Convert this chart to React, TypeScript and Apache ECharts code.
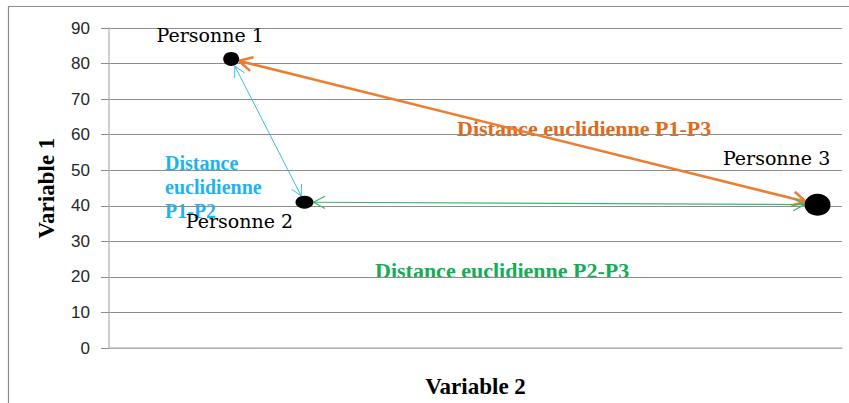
import React, { useEffect, useRef } from "react";
import * as echarts from "echarts";

// ---- data ----
const personNames = ["Personne 1", "Personne 2", "Personne 3"];
const variable2 = [1, 1.6, 5.8];
const variable1 = [81.3, 41, 40.3];
const yMin = 0;
const yMax = 90;
const yInterval = 10;
const xMin = 0;
const xMax = 6;
const distancePairs = [
  [0, 2],
  [0, 1],
  [1, 2],
];
const distanceLabels = [
  "Distance euclidienne P1-P3",
  "Distance\neuclidienne\nP1-P2",
  "Distance euclidienne P2-P3",
];
const xAxisName = "Variable 2";
const yAxisName = "Variable 1";

// ---- styles ----
const markerSizes: number[][] = [
  [16, 14],
  [18, 13],
  [26, 22],
];
const labelOffsets: number[][] = [
  [-21, -24],
  [-65, 19],
  [-41, -47],
];
const arrowStyles = [
  { color: "#ED7D31", width: 2.6, head: 15, gaps: [8, 12] },
  { color: "#3FB8E8", width: 1, head: 12, gaps: [8, 7] },
  { color: "#3DB56E", width: 1.2, head: 13, gaps: [9, 13] },
];
const textColors = ["#E06A17", "#1FB3EE", "#14AD55"];

export default function App() {
  const ref = useRef<HTMLDivElement>(null);
  useEffect(() => {
    if (!ref.current) return;
    const chart = echarts.init(ref.current, undefined, { renderer: "svg" });
    const serif = "Liberation Serif";
    const arrowData = distancePairs.map(([i, j]) => [variable2[i], variable1[i], variable2[j], variable1[j]]);
    const option: any = {
      animation: false,
      backgroundColor: "#ffffff",
      grid: { left: 109, right: 7, top: 28, bottom: 53 },
      xAxis: {
        type: "value",
        min: xMin,
        max: xMax,
        name: xAxisName,
        nameLocation: "middle",
        nameGap: 27,
        nameTextStyle: { fontFamily: serif, fontWeight: "bold", fontSize: 23, color: "#000" },
        axisLine: { show: true, lineStyle: { color: "#BFBFBF", width: 1.5 } },
        axisTick: { show: false },
        axisLabel: { show: false },
        splitLine: { show: false },
      },
      yAxis: {
        type: "value",
        min: yMin,
        max: yMax,
        interval: yInterval,
        name: yAxisName,
        nameLocation: "middle",
        nameRotate: 90,
        nameGap: 51,
        nameTextStyle: { fontFamily: serif, fontWeight: "bold", fontSize: 23, color: "#000" },
        axisLine: { show: true, lineStyle: { color: "#BFBFBF", width: 1.5 } },
        axisTick: { show: true, length: 8, lineStyle: { color: "#8C8C8C" } },
        axisLabel: {
          margin: 19,
          fontFamily: "Liberation Sans",
          fontSize: 17,
          color: "#262626",
        },
        splitLine: { show: true, lineStyle: { color: "#8C8C8C", width: 1 } },
      },
      graphic: [
        {
          type: "rect",
          z: -10,
          silent: true,
          shape: { x: 8.5, y: 6.5, width: 860, height: 420 },
          style: { fill: "none", stroke: "#8C8C8C", lineWidth: 1.2 },
        },
        {
          type: "text",
          left: 457,
          top: 117,
          style: {
            text: distanceLabels[0],
            fontFamily: serif,
            fontWeight: "bold",
            fontSize: 22,
            fill: textColors[0],
          },
        },
        {
          type: "text",
          left: 165,
          top: 151,
          style: {
            text: distanceLabels[1],
            fontFamily: serif,
            fontWeight: "bold",
            fontSize: 20,
            lineHeight: 24,
            fill: textColors[1],
          },
        },
        {
          type: "text",
          left: 375,
          top: 259,
          style: {
            text: distanceLabels[2],
            fontFamily: serif,
            fontWeight: "bold",
            fontSize: 22,
            fill: textColors[2],
          },
        },
      ],
      series: [
        {
          type: "custom",
          z: 3,
          clip: false,
          encode: { x: [0, 2], y: [1, 3] },
          data: arrowData,
          renderItem: (params: any, api: any) => {
            const st = arrowStyles[params.dataIndex];
            const p1 = api.coord([api.value(0), api.value(1)]);
            const p2 = api.coord([api.value(2), api.value(3)]);
            const dx = p2[0] - p1[0];
            const dy = p2[1] - p1[1];
            const len = Math.hypot(dx, dy) || 1;
            const ux = dx / len;
            const uy = dy / len;
            const a = [p1[0] + ux * st.gaps[0], p1[1] + uy * st.gaps[0]];
            const b = [p2[0] - ux * st.gaps[1], p2[1] - uy * st.gaps[1]];
            const th = (28 * Math.PI) / 180;
            const rot = (x: number, y: number, t: number) => [
              x * Math.cos(t) - y * Math.sin(t),
              x * Math.sin(t) + y * Math.cos(t),
            ];
            const r1 = rot(ux, uy, th);
            const r2 = rot(ux, uy, -th);
            const L = st.head;
            const headA = [
              [a[0] + r1[0] * L, a[1] + r1[1] * L],
              a,
              [a[0] + r2[0] * L, a[1] + r2[1] * L],
            ];
            const headB = [
              [b[0] - r1[0] * L, b[1] - r1[1] * L],
              b,
              [b[0] - r2[0] * L, b[1] - r2[1] * L],
            ];
            const style = { stroke: st.color, lineWidth: st.width, fill: null, lineJoin: "miter" };
            return {
              type: "group",
              children: [
                { type: "line", shape: { x1: a[0], y1: a[1], x2: b[0], y2: b[1] }, style },
                { type: "polyline", shape: { points: headA }, style },
                { type: "polyline", shape: { points: headB }, style },
              ],
            };
          },
        },
        {
          type: "scatter",
          z: 5,
          symbol: "circle",
          itemStyle: { color: "#000000", opacity: 1 },
          label: {
            show: true,
            position: "inside",
            formatter: "{b}",
            fontFamily: "DejaVu Serif",
            fontSize: 19,
            color: "#000000",
          },
          data: personNames.map((name, i) => ({
            name,
            value: [variable2[i], variable1[i]],
            symbolSize: markerSizes[i],
            label: { offset: labelOffsets[i] },
          })),
        },
      ],
    };
    chart.setOption(option);
    return () => chart.dispose();
  }, []);
  return (
    <div
      ref={ref}
      style={{ position: "fixed", left: 0, top: 0, width: 849, height: 403 }}
    />
  );
}
